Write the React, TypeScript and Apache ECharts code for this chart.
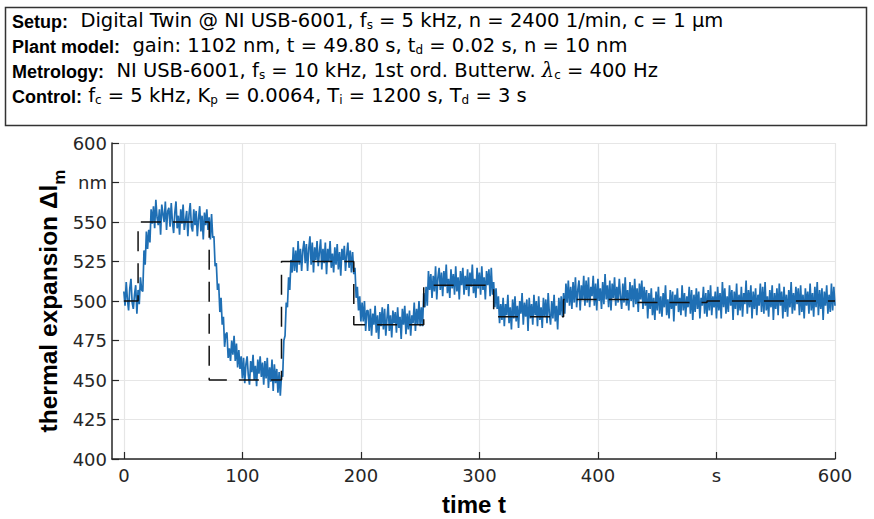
import React, { useEffect, useRef } from "react";
import * as echarts from "echarts";

// ---- data ----
const sampleStep = 1; // seconds between measured samples (t = 0 … 600 s)
const measured = [
  506, 497, 512, 501, 494, 508, 514, 499, 495, 504,
  510, 492, 507, 498, 515, 507, 506, 532, 523, 544,
  533, 545, 537, 558, 549, 560, 546, 564, 553, 548,
  558, 542, 561, 555, 550, 563, 545, 557, 559, 547,
  562, 550, 543, 556, 563, 546, 554, 542, 558, 549,
  561, 545, 551, 557, 541, 555, 562, 547, 544, 558,
  548, 557, 541, 552, 560, 544, 554, 539, 556, 548,
  558, 545, 553, 539, 555, 540, 541, 522, 524, 507,
  511, 493, 502, 485, 490, 471, 479, 480, 464, 470,
  462, 475, 466, 478, 462, 473, 458, 469, 457, 465,
  451, 464, 448, 460, 465, 453, 447, 462, 455, 466,
  450, 459, 446, 463, 454, 465, 452, 461, 447, 462,
  451, 464, 445, 458, 449, 463, 443, 460, 448, 457,
  442, 455, 440, 453, 452, 475, 478, 499, 496, 515,
  507, 526, 518, 534, 519, 532, 518, 538, 523, 533,
  519, 532, 538, 524, 536, 519, 533, 541, 523, 537,
  518, 534, 526, 538, 522, 531, 539, 520, 533, 524,
  537, 517, 533, 525, 538, 521, 530, 518, 534, 523,
  536, 520, 531, 516, 533, 526, 535, 519, 529, 537,
  521, 532, 518, 531, 517, 521, 502, 509, 494, 503,
  487, 499, 487, 500, 481, 494, 494, 481, 495, 478,
  492, 485, 497, 480, 491, 476, 493, 484, 496, 482,
  495, 478, 489, 498, 481, 491, 477, 494, 486, 493,
  480, 496, 483, 490, 476, 495, 485, 497, 479, 492,
  482, 494, 478, 491, 486, 499, 481, 495, 485, 500,
  484, 496, 484, 505, 496, 509, 497, 519, 507, 517,
  502, 516, 506, 522, 501, 515, 521, 507, 518, 503,
  519, 509, 523, 505, 514, 502, 520, 508, 517, 504,
  522, 506, 515, 501, 519, 510, 521, 504, 516, 507,
  520, 503, 518, 509, 523, 505, 514, 502, 521, 508,
  518, 504, 522, 507, 515, 501, 519, 510, 520, 503,
  521, 504, 512, 496, 508, 495, 503, 486, 498, 488,
  502, 484, 498, 491, 504, 486, 496, 482, 501, 489,
  503, 487, 497, 483, 500, 492, 505, 485, 499, 490,
  501, 481, 502, 489, 498, 485, 504, 491, 500, 484,
  503, 488, 496, 483, 502, 490, 501, 486, 505, 492,
  485, 500, 489, 504, 487, 497, 482, 502, 491, 503,
  490, 505, 492, 511, 499, 513, 497, 509, 495, 512,
  499, 515, 496, 507, 513, 494, 510, 501, 516, 497,
  513, 499, 515, 496, 509, 503, 516, 497, 511, 494,
  514, 500, 508, 495, 512, 498, 517, 501, 510, 496,
  513, 494, 511, 502, 515, 497, 509, 499, 514, 503,
  495, 511, 499, 515, 497, 507, 494, 512, 500, 510,
  496, 514, 498, 508, 493, 511, 501, 513, 495, 509,
  497, 507, 489, 505, 495, 508, 491, 502, 488, 506,
  494, 509, 492, 503, 490, 505, 496, 510, 491, 501,
  489, 507, 495, 506, 487, 504, 497, 508, 493, 502,
  491, 510, 494, 505, 490, 503, 496, 509, 492, 507,
  488, 504, 493, 508, 495, 506, 489, 502, 497, 509,
  492, 505, 490, 507, 494, 510, 491, 503, 496, 506,
  489, 509, 494, 505, 489, 512, 496, 508, 492, 503,
  493, 510, 497, 507, 488, 506, 495, 511, 491, 504,
  494, 509, 490, 505, 498, 513, 492, 507, 496, 510,
  489, 506, 495, 508, 491, 504, 497, 511, 493, 509,
  492, 512, 494, 503, 490, 507, 496, 510, 488, 505,
  495, 508, 491, 511, 497, 506, 489, 509, 493, 504,
  490, 507, 496, 512, 492, 505, 494, 509, 498, 508,
  491, 510, 493, 504, 489, 508, 497, 506, 492, 511,
  494, 505, 490, 509, 496, 512, 491, 507, 495, 508,
  488, 506, 497, 510, 492, 504, 493, 511, 494, 509,
  497,
];
const stepTimes = [0, 12, 72, 133, 194, 253, 312, 371, 431, 492, 600];
const stepValues = [500, 550, 450, 525, 485, 510, 490, 501, 499, 500];

const xTickValues = [0, 100, 200, 300, 400, 500, 600];
const xTickLabels = ["0", "100", "200", "300", "400", "s", "600"];
const yTickValues = [400, 425, 450, 475, 500, 525, 550, 575, 600];
const yTickLabels = ["400", "425", "450", "475", "500", "525", "550", "nm", "600"];

const headerLines = [
  "{b|Setup:}{n|  Digital Twin @ NI USB-6001, f}{s|s}{n| = 5 kHz, n = 2400 1/min, c = 1 μm}",
  "{b|Plant model:}{n|  gain: 1102 nm, t = 49.80 s, t}{s|d}{n| = 0.02 s, n = 10 nm}",
  "{b|Metrology:}{n|  NI USB-6001, f}{s|s}{n| = 10 kHz, 1st ord. Butterw. }{l|λ}{s|c}{n| = 400 Hz}",
  "{b|Control:}{n| f}{s|c}{n| = 5 kHz, K}{s|p}{n| = 0.0064, T}{s|i}{n| = 1200 s, T}{s|d}{n| = 3 s}",
];
const xAxisTitle = "time t";
const yAxisTitleMain = "thermal expansion Δl";
const yAxisTitleSub = "m";

const BOLD_FONT = "'Liberation Sans', Arial, Helvetica, sans-serif";
const TEXT_FONT = "'DejaVu Sans', 'Liberation Sans', sans-serif";
const INK = "#262626";

export default function App() {
  const ref = useRef<HTMLDivElement>(null);

  useEffect(() => {
    if (!ref.current) return;
    const chart = echarts.init(ref.current, undefined, { renderer: "svg" });

    const measuredData = measured.map((v, i) => [i * sampleStep, v]);
    const setpointData = stepValues.map((v, i) => [stepTimes[i], v]);
    setpointData.push([stepTimes[stepTimes.length - 1], stepValues[stepValues.length - 1]]);

    const headerRich = {
      b: { fontFamily: BOLD_FONT, fontSize: 18, fontWeight: "bold", color: "#000", lineHeight: 18, verticalAlign: "bottom" },
      n: { fontFamily: TEXT_FONT, fontSize: 19.5, color: "#000", lineHeight: 19.5, verticalAlign: "bottom" },
      s: { fontFamily: TEXT_FONT, fontSize: 12, color: "#000", lineHeight: 12, padding: [4, 0, 0, 0], verticalAlign: "bottom" },
      l: { fontFamily: "'DejaVu Serif', serif", fontStyle: "italic", fontSize: 19.5, color: "#000", lineHeight: 19.5, verticalAlign: "bottom" },
    };

    const option: any = {
      animation: false,
      backgroundColor: "#ffffff",
      grid: { left: 112, right: 39, top: 143, bottom: 60, containLabel: false },
      xAxis: {
        type: "value",
        min: -10,
        max: 600,
        axisLine: { show: true, onZero: false, lineStyle: { color: INK, width: 1.5 } },
        axisTick: { show: true, inside: true, length: 7, customValues: xTickValues, lineStyle: { color: INK, width: 1.2 } },
        axisLabel: {
          customValues: xTickValues,
          formatter: (v: number) => xTickLabels[xTickValues.indexOf(v)] ?? "",
          fontSize: 18,
          fontFamily: TEXT_FONT,
          color: INK,
          margin: 7,
        },
        splitLine: { show: true, customValues: xTickValues, lineStyle: { color: "#e6e6e6", width: 1.2 } },
      },
      yAxis: {
        type: "value",
        min: 400,
        max: 600,
        interval: 25,
        axisLine: { show: true, onZero: false, lineStyle: { color: INK, width: 1.5 } },
        axisTick: { show: true, inside: true, length: 7, lineStyle: { color: INK, width: 1.2 } },
        axisLabel: {
          formatter: (v: number) => yTickLabels[yTickValues.indexOf(v)] ?? "",
          fontSize: 18,
          fontFamily: TEXT_FONT,
          color: INK,
          margin: 5,
        },
        splitLine: { show: true, lineStyle: { color: "#e6e6e6", width: 1.2 } },
      },
      series: [
        {
          type: "line",
          data: measuredData,
          showSymbol: false,
          symbol: "none",
          lineStyle: { color: "#1f6fb4", width: 1.7 },
          z: 2,
        },
        {
          type: "line",
          data: setpointData,
          step: "end",
          showSymbol: false,
          symbol: "none",
          lineStyle: { color: "#111111", width: 1.5, type: [20, 12] },
          z: 3,
        },
      ],
      graphic: [
        {
          type: "rect",
          shape: { x: 5.5, y: 7.5, width: 861, height: 118 },
          style: { fill: "#ffffff", stroke: "#333333", lineWidth: 1.5 },
          z: 10,
        },
        ...headerLines.map((line, i) => ({
          type: "text",
          x: 12,
          y: 30.5 + i * 25,
          z: 11,
          style: { text: line, rich: headerRich, verticalAlign: "bottom", align: "left" },
        })),
        {
          type: "text",
          x: 474,
          y: 504,
          z: 11,
          style: {
            text: xAxisTitle,
            fontFamily: BOLD_FONT,
            fontSize: 24,
            fontWeight: "bold",
            fill: "#000",
            align: "center",
            verticalAlign: "middle",
          },
        },
        {
          type: "text",
          x: 48,
          y: 301,
          rotation: Math.PI / 2,
          z: 11,
          style: {
            text: "{a|" + yAxisTitleMain + "}{s|" + yAxisTitleSub + "}",
            align: "center",
            verticalAlign: "middle",
            rich: {
              a: { fontFamily: BOLD_FONT, fontSize: 24.5, fontWeight: "bold", color: "#000", lineHeight: 24.5, verticalAlign: "top" },
              s: { fontFamily: BOLD_FONT, fontSize: 17, fontWeight: "bold", color: "#000", lineHeight: 17, padding: [15, 0, 0, 0], verticalAlign: "top" },
            },
          },
        },
      ],
    };

    chart.setOption(option);
    return () => chart.dispose();
  }, []);

  return (
    <div
      ref={ref}
      style={{ position: "fixed", left: 0, top: 0, width: 874, height: 519, background: "#fff" }}
    />
  );
}
